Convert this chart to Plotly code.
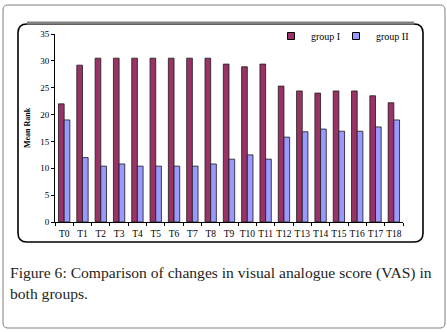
import plotly.graph_objects as go

categories = ["T0", "T1", "T2", "T3", "T4", "T5", "T6", "T7", "T8", "T9",
              "T10", "T11", "T12", "T13", "T14", "T15", "T16", "T17", "T18"]
group_I = [22.0, 29.2, 30.5, 30.5, 30.5, 30.5, 30.5, 30.5, 30.5, 29.4,
           28.9, 29.4, 25.3, 24.4, 24.0, 24.4, 24.4, 23.5, 22.2]
group_II = [19.0, 12.0, 10.4, 10.8, 10.4, 10.4, 10.4, 10.4, 10.8, 11.7,
            12.5, 11.7, 15.8, 16.8, 17.3, 16.9, 16.9, 17.7, 19.0]
y_ticks = [0, 5, 10, 15, 20, 25, 30, 35]
series_names = ["group I", "group II"]
colors = ["#993366", "#9999FF"]

W, H = 447, 332
L, R, T, B = 55, 403, 34, 222
PW, PH = R - L, B - T
FONT = "Liberation Serif"


def px(x):
    return (x - L) / PW


def py(y):
    return (B - y) / PH


def rounded(x0, y0, x1, y1, r):
    pts = [
        f"M {px(x0 + r)},{py(y0)}",
        f"L {px(x1 - r)},{py(y0)}",
        f"Q {px(x1)},{py(y0)} {px(x1)},{py(y0 + r)}",
        f"L {px(x1)},{py(y1 - r)}",
        f"Q {px(x1)},{py(y1)} {px(x1 - r)},{py(y1)}",
        f"L {px(x0 + r)},{py(y1)}",
        f"Q {px(x0)},{py(y1)} {px(x0)},{py(y1 - r)}",
        f"L {px(x0)},{py(y0 + r)}",
        f"Q {px(x0)},{py(y0)} {px(x0 + r)},{py(y0)}",
        "Z",
    ]
    return " ".join(pts)


fig = go.Figure()
legend_ids = ["legend", "legend2"]
for name, vals, col, lg in zip(series_names, [group_I, group_II], colors, legend_ids):
    fig.add_trace(go.Bar(
        x=categories, y=vals, name=name, showlegend=False,
        marker=dict(color=col, line=dict(color="#1a1a1a", width=0.8)),
    ))
    # legend proxy with small square symbol
    fig.add_trace(go.Scatter(
        x=[None], y=[None], mode="markers", name=name, legend=lg,
        marker=dict(symbol="square", size=7, color=col,
                    line=dict(color="black", width=1)),
    ))

shapes = [
    dict(type="path", xref="paper", yref="paper",
         path=rounded(3, 5, 445, 328, 5),
         line=dict(color="#7f7f7f", width=1), layer="below"),
    dict(type="path", xref="paper", yref="paper",
         path=rounded(18, 24, 423, 242, 9),
         line=dict(color="black", width=1.6), layer="below"),
    dict(type="line", xref="paper", yref="paper",
         x0=px(27), x1=px(414), y0=py(23), y1=py(23),
         line=dict(color="#808080", width=3)),
]

annotations = [
    dict(xref="paper", yref="paper", x=px(8), y=py(273), xanchor="left",
         yanchor="middle", showarrow=False, align="left",
         text="Figure 6: Comparison of changes in visual analogue score (VAS) in",
         font=dict(family=FONT, size=15.6, color="#231f20")),
    dict(xref="paper", yref="paper", x=px(8), y=py(293), xanchor="left",
         yanchor="middle", showarrow=False, align="left",
         text="both groups.",
         font=dict(family=FONT, size=15.6, color="#231f20")),
]

legend_common = dict(orientation="h", yanchor="middle", y=py(36),
                     xanchor="left", font=dict(family=FONT, size=10),
                     bgcolor="rgba(0,0,0,0)", itemwidth=30)

fig.update_layout(
    width=W, height=H,
    margin=dict(l=L, r=W - R, t=T, b=H - B, autoexpand=False),
    paper_bgcolor="white", plot_bgcolor="white",
    barmode="group", bargap=0.38, bargroupgap=0,
    font=dict(family=FONT, size=10, color="black"),
    legend=dict(x=px(271), **legend_common),
    legend2=dict(x=px(336), **legend_common),
    shapes=shapes, annotations=annotations,
    xaxis=dict(type="category", showline=True, linecolor="black", linewidth=1,
               ticks="outside", ticklen=3, tickcolor="black",
               tickson="boundaries", showgrid=False, tickangle=0,
               automargin=False, ticklabelstandoff=3,
               tickfont=dict(family=FONT, size=9.5)),
    yaxis=dict(range=[0, 35], tickvals=y_ticks, showline=True,
               linecolor="black", linewidth=1, ticks="outside", ticklen=3,
               tickcolor="black", showgrid=False, zeroline=False,
               automargin=False,
               tickfont=dict(family=FONT, size=9),
               title=dict(text="<b>Mean Rank</b>", standoff=8,
                          font=dict(family=FONT, size=8))),
)

fig.write_html(
    "out.html",
    config={"displayModeBar": False},
    post_script="document.body.style.margin='0';document.body.style.overflow='hidden';",
)
